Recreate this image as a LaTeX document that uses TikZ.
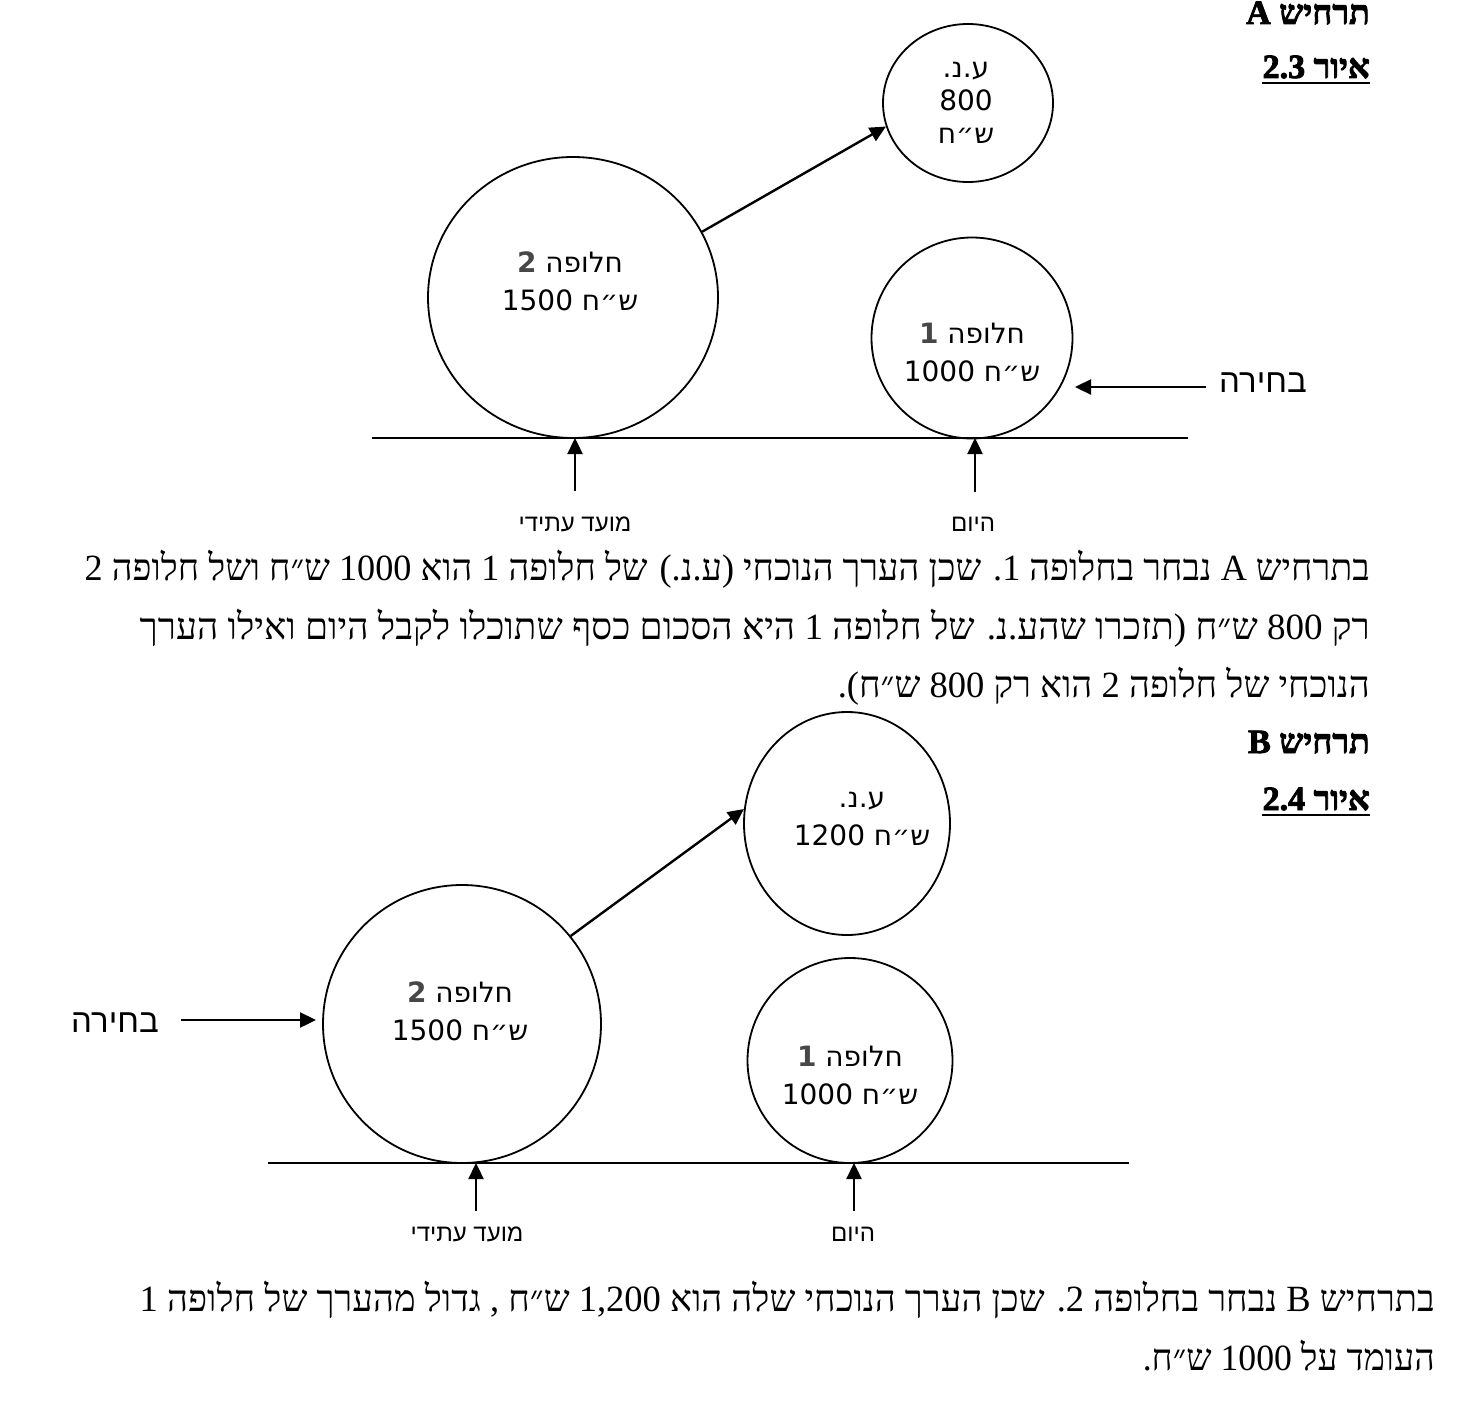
\documentclass[tikz,border=0pt]{standalone}
\usepackage{fontspec}
\usepackage{graphicx}
\usetikzlibrary{arrows.meta,shapes.geometric}
\TeXXeTstate=1
\newfontfamily\hserif[Script=Hebrew]{Liberation Serif}
\newfontfamily\hhead[Script=Hebrew,FakeBold=2.5]{Liberation Serif Bold}
\newfontfamily\hsans[Script=Hebrew]{DejaVu Sans}
\newfontfamily\hsansb[Script=Hebrew]{DejaVu Sans Bold}
\newfontfamily\harial[Script=Hebrew]{Liberation Sans}
\definecolor{numgray}{HTML}{474747}
\newcommand\brk{\kern0pt}
\newcommand\RL[1]{\beginR#1\endR}
\newcommand\gnum[1]{{\hsansb\color{numgray}#1}}
\begin{document}
\begin{tikzpicture}[x=1pt,y=-1pt,
  circ/.style={draw, ellipse, line width=1.8pt, inner sep=0pt},
  arr/.style={-{Triangle[length=16pt,width=15pt]}, line width=2.4pt},
  tline/.style={line width=1.8pt},
  ctxt/.style={font=\hsans\fontsize{28}{38}\selectfont, align=center, inner sep=0pt},
  lbl/.style={font=\harial\fontsize{24}{26}\selectfont, inner sep=0pt},
  sel/.style={font=\harial\fontsize{33}{36}\selectfont, inner ysep=0pt},
  para/.style={font=\hserif\fontsize{37}{40}\selectfont, inner sep=0pt, anchor=base east},
  head/.style={font=\hhead\fontsize{34}{36}\selectfont, inner sep=0pt, anchor=base east},
  uline/.style={line width=2.8pt}]
\useasboundingbox (0,0) rectangle (1478,1410);

% ---------- Scenario A ----------
\node[head] (hA) at (1370,24) {\RL{תרחיש A}};
\node[head] (figA) at (1370,78) {\RL{איור 2.3}};
\draw[uline] ([yshift=-5pt]figA.base west) -- ([yshift=-5pt]figA.base east);

\node[circ, minimum width=170pt, minimum height=158pt] (nva) at (968,103) {};
\node[ctxt, font=\hsans\fontsize{28}{33}\selectfont] (nvaT) at (966,103) {ע.נ.\\800\\ש״ח};

\node[circ, minimum width=290pt, minimum height=281pt] (c2a) at (573,297.5) {};
\node[ctxt] (c2aT) at (570,281.5) {\gnum{2} חלופה\\1500 ש״ח};

\node[circ, minimum width=201pt, minimum height=201pt] (c1a) at (972,338) {};
\node[ctxt] (c1aT) at (972,352) {\gnum{1} חלופה\\1000 ש״ח};

\draw[arr] (c2a.27) -- (nva.196);

\coordinate (tlAl) at (372,438);
\coordinate (tlAr) at (1188,438);
\draw[tline] (tlAl) -- (tlAr);

\coordinate (futA) at (575,491);
\coordinate (todA) at (975,492);
\draw[arr] (futA) -- (futA |- tlAl);
\draw[arr] (todA) -- (todA |- tlAl);
\node[lbl] (lfutA) at (575,524) {\RL{מועד עתידי}};
\node[lbl] (ltodA) at (973,524) {היום};

\node[sel, inner xsep=13pt] (selA) at (1263,383) {בחירה};
\coordinate (selAend) at (1075,387);
\draw[arr] (selA.west |- selAend) -- (selAend);

\node[para] (pA1) at (1370,580) {\resizebox{1285pt}{\height}{\RL{בתרחיש A נבחר בחלופה 1\brk. שכן הערך הנוכחי (ע.נ.) של חלופה 1 הוא 1000 ש״ח ושל חלופה 2}}};
\node[para] (pA2) at (1370,639) {\resizebox{1230pt}{\height}{\RL{רק 800 ש״ח (תזכרו שהע.נ. של חלופה 1 היא הסכום כסף שתוכלו לקבל היום ואילו הערך}}};
\node[para] (pA3) at (1370,697) {\resizebox{532pt}{\height}{\RL{הנוכחי של חלופה 2 הוא רק 800 ש״ח).}}};

% ---------- Scenario B ----------
\node[head] (hB) at (1370,753) {\RL{תרחיש B}};
\node[head] (figB) at (1370,810) {\RL{איור 2.4}};
\draw[uline] ([yshift=-5pt]figB.base west) -- ([yshift=-5pt]figB.base east);

\node[circ, minimum width=206pt, minimum height=223pt] (nvb) at (847,823.5) {};
\node[ctxt] (nvbT) at (862,819) {ע.נ.\\1200 ש״ח};

\node[circ, minimum width=278pt, minimum height=278pt] (c2b) at (462,1024) {};
\node[ctxt] (c2bT) at (460,1011.5) {\gnum{2} חלופה\\1500 ש״ח};

\node[circ, minimum width=205pt, minimum height=205pt] (c1b) at (850,1060.5) {};
\node[ctxt] (c1bT) at (850,1075.5) {\gnum{1} חלופה\\1000 ש״ח};

\draw[arr] (c2b.39) -- (nvb.172);

\coordinate (tlBl) at (268,1163);
\coordinate (tlBr) at (1129,1163);
\draw[tline] (tlBl) -- (tlBr);

\coordinate (futB) at (476,1211);
\coordinate (todB) at (854,1211);
\draw[arr] (futB) -- (futB |- tlBl);
\draw[arr] (todB) -- (todB |- tlBl);
\node[lbl] (lfutB) at (467,1234) {\RL{מועד עתידי}};
\node[lbl] (ltodB) at (853,1234) {היום};

\node[sel, inner xsep=22pt] (selB) at (115,1023) {בחירה};
\coordinate (selBend) at (316,1020);
\draw[arr] (selB.east |- selBend) -- (selBend);

\node[para] (pB1) at (1435,1311) {\resizebox{1295pt}{\height}{\RL{בתרחיש B נבחר בחלופה 2\brk. שכן הערך הנוכחי שלה הוא \beginL 1,200\endL{} ש״ח , גדול מהערך של חלופה 1}}};
\node[para] (pB2) at (1435,1370) {\resizebox{292pt}{\height}{\RL{העומד על 1000 ש״ח.}}};
\end{tikzpicture}
\end{document}
